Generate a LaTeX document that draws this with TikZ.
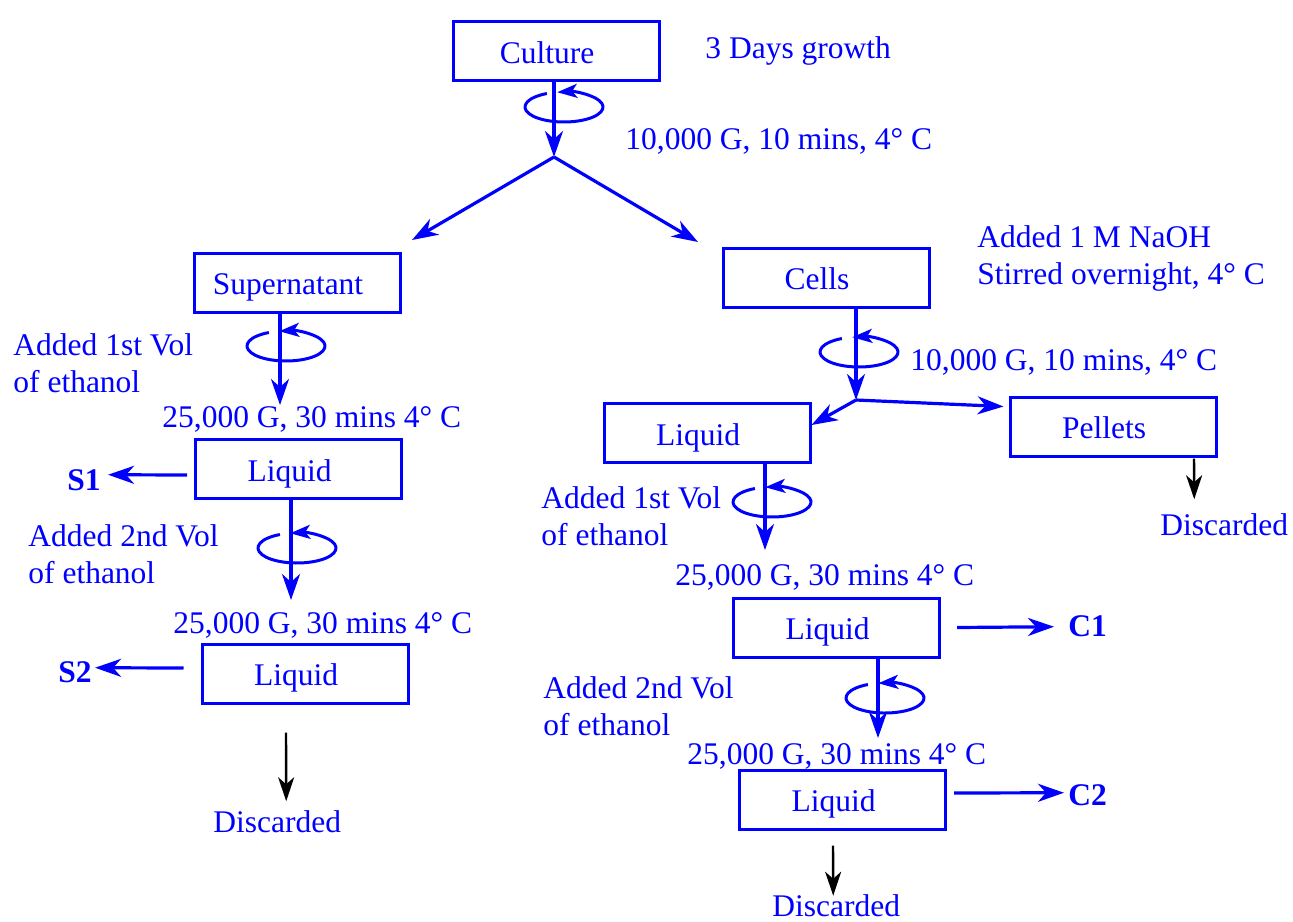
\documentclass[tikz,border=0pt]{standalone}
\usepackage{fontspec}
\setmainfont{Liberation Serif}
\usetikzlibrary{arrows.meta,calc}

\begin{document}
\begin{tikzpicture}[x=0.5pt, y=-0.5pt,
    font=\fontsize{15.75}{18.5}\selectfont,
    box/.style={draw=blue, line width=1.5pt, minimum width=103pt, minimum height=29.5pt,
      text=blue, text height=13pt, text depth=1pt, execute at end node={\hspace*{9pt}}},
    lbl/.style={text=blue, inner sep=0pt, anchor=base west},
    outlbl/.style={lbl, font=\fontsize{15.75}{18.5}\selectfont\bfseries},
    flow/.style={draw=blue, line width=1.6pt, -{Stealth[length=13pt, width=9pt, inset=4pt]}},
    waste/.style={draw=black, line width=1.2pt, -{Stealth[length=12pt, width=8pt, inset=3.5pt]}},
    rotarrow/.style={draw=blue, line width=1.5pt, -{Stealth[length=10pt, width=7pt, inset=2.5pt]}}]

  \useasboundingbox (0,0) rectangle (1293,921);

  % Boxes
  \node[box] (culture) at (556,51) {Culture};
  \node[box] (super) at (297,282.5) {Supernatant};
  \node[box] (cells) at (826,277.5) {Cells};
  \node[box] (liqS1) at (298.5,469) {Liquid};
  \node[box] (liqS2) at (305,673.5) {Liquid};
  \node[box] (liqC) at (707,433) {Liquid};
  \node[box] (pellets) at (1113,426.5) {Pellets};
  \node[box] (liqC1) at (836.5,627.5) {Liquid};
  \node[box] (liqC2) at (842.5,799.5) {Liquid};

  % Conditions
  \node[lbl] (grow) at (705,58) {3 Days growth};
  \node[lbl] (spinTop) at (625,149) {10,000 G, 10 mins, 4° C};
  \node[lbl, anchor=north west, align=left] (naoh) at (977,225.5) {Added 1 M NaOH\\Stirred overnight, 4° C};
  \node[lbl, anchor=north west, align=left] (addS1) at (13,333.5) {Added 1st Vol\\of ethanol};
  \node[lbl] (gS1) at (162,427) {25,000 G, 30 mins 4° C};
  \node[lbl, anchor=north west, align=left] (addS2) at (28,524.5) {Added 2nd Vol\\of ethanol};
  \node[lbl] (gS2) at (173,633) {25,000 G, 30 mins 4° C};
  \node[lbl] (spinCells) at (910,370) {10,000 G, 10 mins, 4° C};
  \node[lbl, anchor=north west, align=left] (addC1) at (541,486.5) {Added 1st Vol\\of ethanol};
  \node[lbl] (gC1) at (675,585) {25,000 G, 30 mins 4° C};
  \node[lbl, anchor=north west, align=left] (addC2) at (543,676.5) {Added 2nd Vol\\of ethanol};
  \node[lbl] (gC2) at (687,764) {25,000 G, 30 mins 4° C};

  % Fractions
  \node[outlbl] (S1) at (67,490) {S1};
  \node[outlbl] (S2) at (58,682) {S2};
  \node[outlbl] (C1) at (1068,636) {C1};
  \node[outlbl] (C2) at (1068,805) {C2};
  \node[lbl] (disS) at (213,832) {Discarded};
  \node[lbl] (disP) at (1160,535) {Discarded};
  \node[lbl] (disC) at (772,916) {Discarded};

  % Junctions and arrow ends
  \coordinate (split1) at (554,157);
  \coordinate (toSup) at (412,240);
  \coordinate (toCells) at (698,242);
  \coordinate (inS1) at (280,405);
  \coordinate (inS2) at (291,600);
  \coordinate (split2) at (856,400);
  \coordinate (inC1) at (765,550);
  \coordinate (inC2) at (878,738);

  % Centrifuge steps
  \draw[flow] (culture.south -| split1) -- (split1);
  \draw[flow] (split1) -- (toSup);
  \draw[flow] (split1) -- (toCells);
  \draw[flow] (super.south -| inS1) -- (inS1);
  \draw[flow] (liqS1.south -| inS2) -- (inS2);
  \draw[flow] (cells.south -| split2) -- (split2);
  \draw[flow] (split2) -- ([yshift=4pt]liqC.east);
  \draw[flow] (split2) -- ([xshift=-2.5pt, yshift=10pt]pellets.west);
  \draw[flow] (liqC.south -| inC1) -- (inC1);
  \draw[flow] (liqC1.south -| inC2) -- (inC2);

  \foreach \cx/\cy in {564/107, 286/346, 297/548, 859/352, 772/502, 885/698}
    \draw[rotarrow] (\cx,\cy) ++(116:19.5pt and 7.5pt)
      arc[start angle=116, end angle=460, x radius=19.5pt, y radius=7.5pt];

  % Collected fractions
  \draw[flow] ($(liqS1.west)+(-7,6)$) -- ($(S1.east)+(7,-5)$);
  \draw[flow] ($(liqS2.west)+(-17,-5.5)$) -- ($(S2.east)+(3,-4)$);
  \draw[flow] ($(liqC1.east)+(16,0)$) -- ($(C1.west)+(-14,1)$);
  \draw[flow] ($(liqC2.east)+(7,-6.5)$) -- ($(C2.west)+(-4,-2)$);

  % Discarded
  \draw[waste] ($(liqS2.south)+(-19,28)$) -- ($(disS.north)+(9,-8.5)$);
  \draw[waste] ($(pellets.south)+(81,1)$) -- ($(disP.north)+(-30,-13.5)$);
  \draw[waste] ($(liqC2.south)+(-9.5,15)$) -- ($(disC.north)+(-3,2)$);

\end{tikzpicture}
\end{document}
